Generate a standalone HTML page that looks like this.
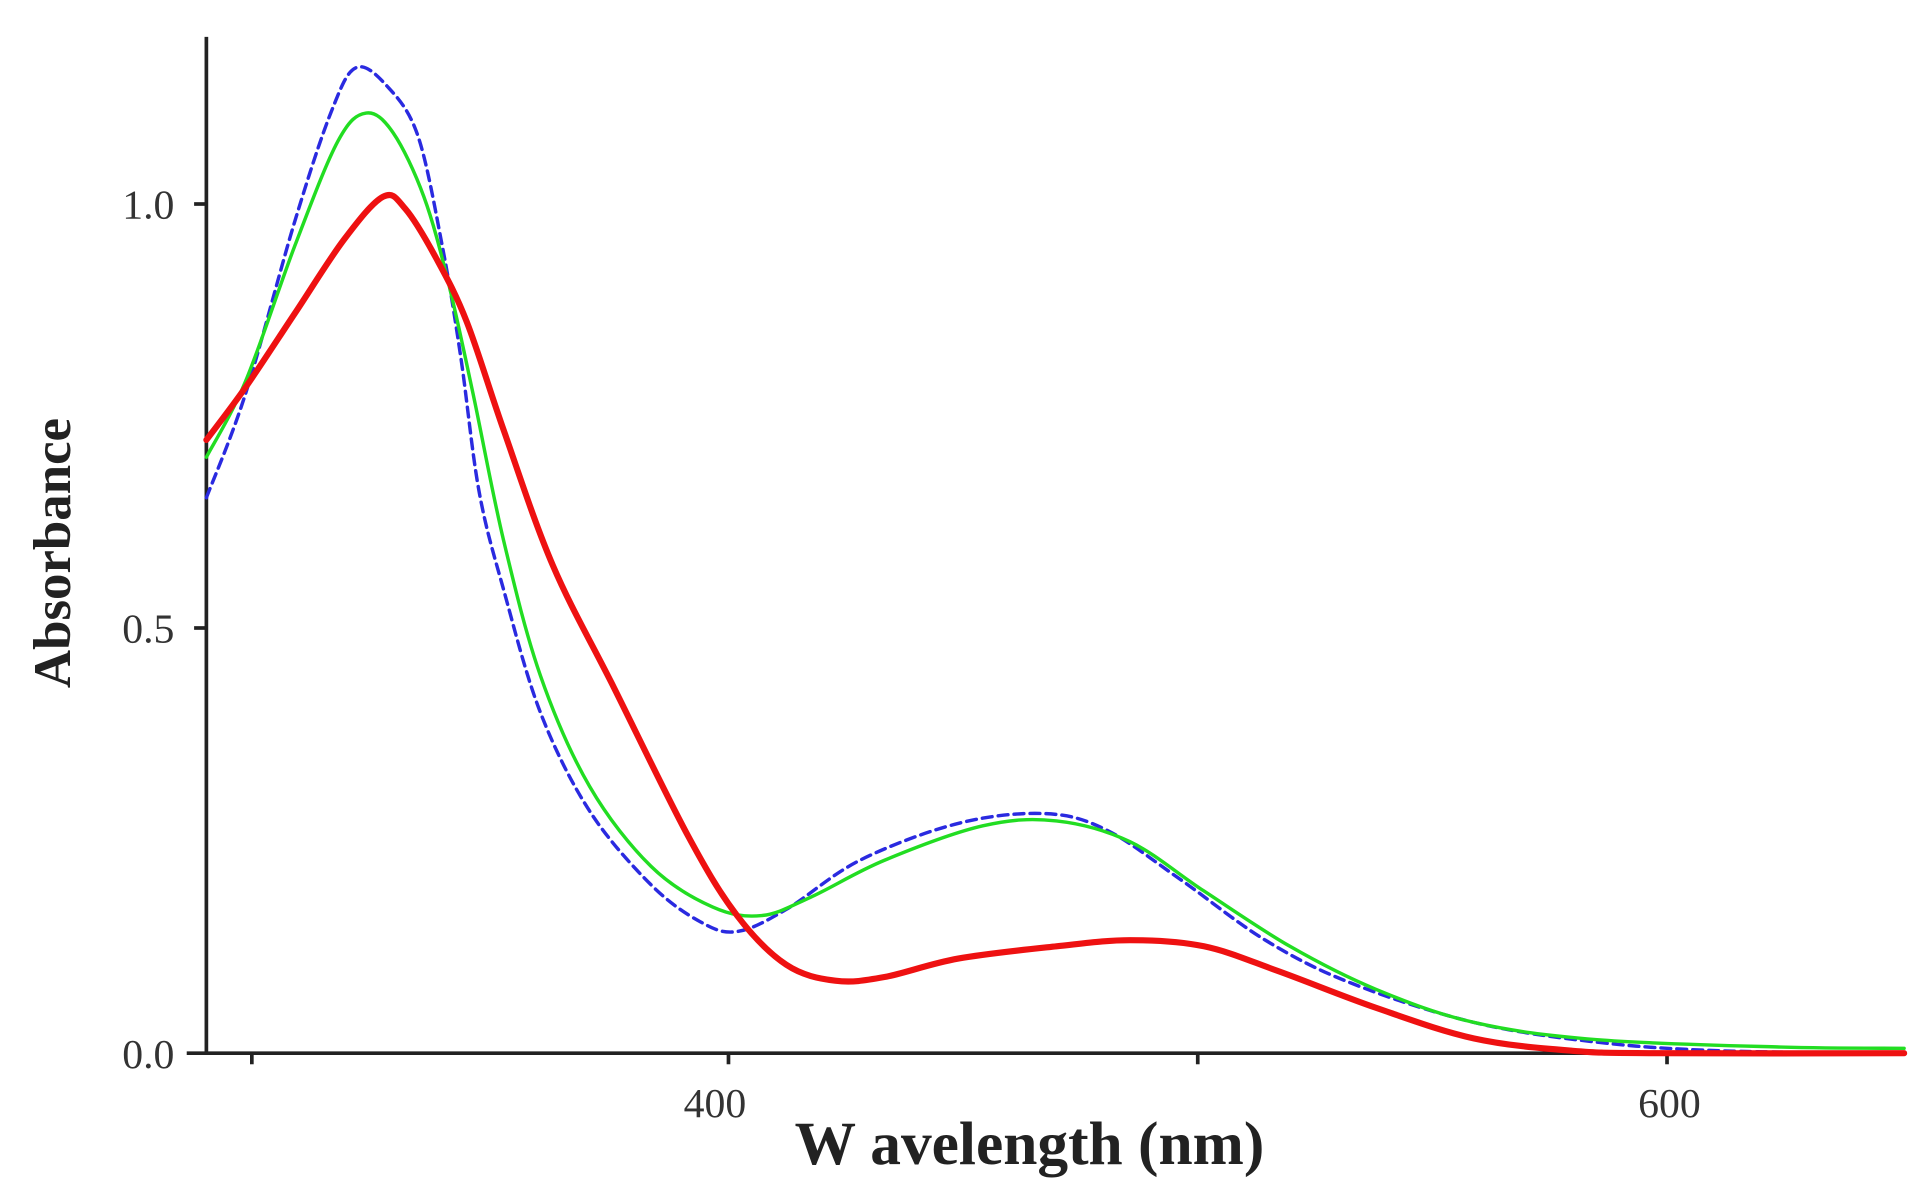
<!DOCTYPE html>
<html><head><meta charset="utf-8"><style>
html,body{margin:0;padding:0;background:#fff;}
svg{display:block;}
</style></head><body>
<svg width="1925" height="1197" viewBox="0 0 1567 974" preserveAspectRatio="none" xmlns="http://www.w3.org/2000/svg">
<rect width="1567" height="974" fill="#fff"/>
<g stroke="#222" stroke-width="3" fill="none">
<line x1="168" y1="30" x2="168" y2="858"/>
<line x1="152" y1="857" x2="1552" y2="857"/>
<line x1="158" y1="166" x2="168" y2="166"/>
<line x1="158" y1="511" x2="168" y2="511"/>
<line x1="205" y1="857" x2="205" y2="866"/>
<line x1="593" y1="857" x2="593" y2="866"/>
<line x1="975" y1="857" x2="975" y2="866"/>
<line x1="1357" y1="857" x2="1357" y2="866"/>
</g>
<g font-family="Liberation Serif, serif" font-size="34" fill="#333" text-anchor="end">
<text x="142" y="178">1.0</text>
<text x="142" y="523">0.5</text>
<text x="142" y="869">0.0</text>
</g>
<g font-family="Liberation Serif, serif" font-size="34" fill="#333" text-anchor="middle">
<text x="582" y="909">400</text>
<text x="1359" y="909">600</text>
</g>
<text x="838" y="947" font-family="Liberation Serif, serif" font-weight="bold" font-size="50" fill="#222" text-anchor="middle">W avelength (nm)</text>
<text transform="translate(57,450) rotate(-90)" font-family="Liberation Serif, serif" font-weight="bold" font-size="43" fill="#222" text-anchor="middle">Absorbance</text>
<g fill="none" stroke-linejoin="round" stroke-linecap="round">
<path id="b" stroke="#2a2ae0" stroke-width="2.8" stroke-dasharray="8,5"/>
<path id="g" stroke="#22dd22" stroke-width="2.8"/>
<path id="r" stroke="#ee1111" stroke-width="5"/>
</g>
</svg>
<script>
function cr(p){var d="M"+p[0][0]+","+p[0][1];for(var i=0;i<p.length-1;i++){var p0=p[i-1]||p[i],p1=p[i],p2=p[i+1],p3=p[i+2]||p2;
d+=" C"+(p1[0]+(p2[0]-p0[0])/6)+","+(p1[1]+(p2[1]-p0[1])/6)+" "+(p2[0]-(p3[0]-p1[0])/6)+","+(p2[1]-(p3[1]-p1[1])/6)+" "+p2[0]+","+p2[1];}return d;}
var B=[[168,405],[200,320],[240,180],[270,90],[290,55],[315,70],[340,110],[360,200],[375,290],[390,400],[410,480],[440,580],[480,660],[530,720],[570,750],[600,758],[640,740],[700,700],[780,670],[850,662],[900,675],[960,715],[1030,765],[1100,800],[1200,832],[1300,848],[1400,855],[1550,857]];
var G=[[168,372],[200,310],[240,200],[275,115],[298,92],[320,108],[345,160],[365,230],[385,320],[410,440],[440,550],[480,640],[530,705],[580,738],[620,745],[660,730],[720,700],[800,672],[860,668],[920,685],[980,725],[1050,770],[1120,805],[1200,832],[1300,846],[1450,852],[1550,853]];
var R=[[168,358],[200,315],[240,255],[280,195],[312,160],[330,170],[355,210],[380,262],[410,350],[450,460],[500,560],[560,680],[600,745],[640,785],[680,798],[720,795],[780,780],[860,770],[920,765],[980,770],[1040,790],[1120,820],[1200,845],[1280,855],[1350,857],[1550,857]];
document.getElementById("b").setAttribute("d",cr(B));
document.getElementById("g").setAttribute("d",cr(G));
document.getElementById("r").setAttribute("d",cr(R));
</script>
</body></html>
